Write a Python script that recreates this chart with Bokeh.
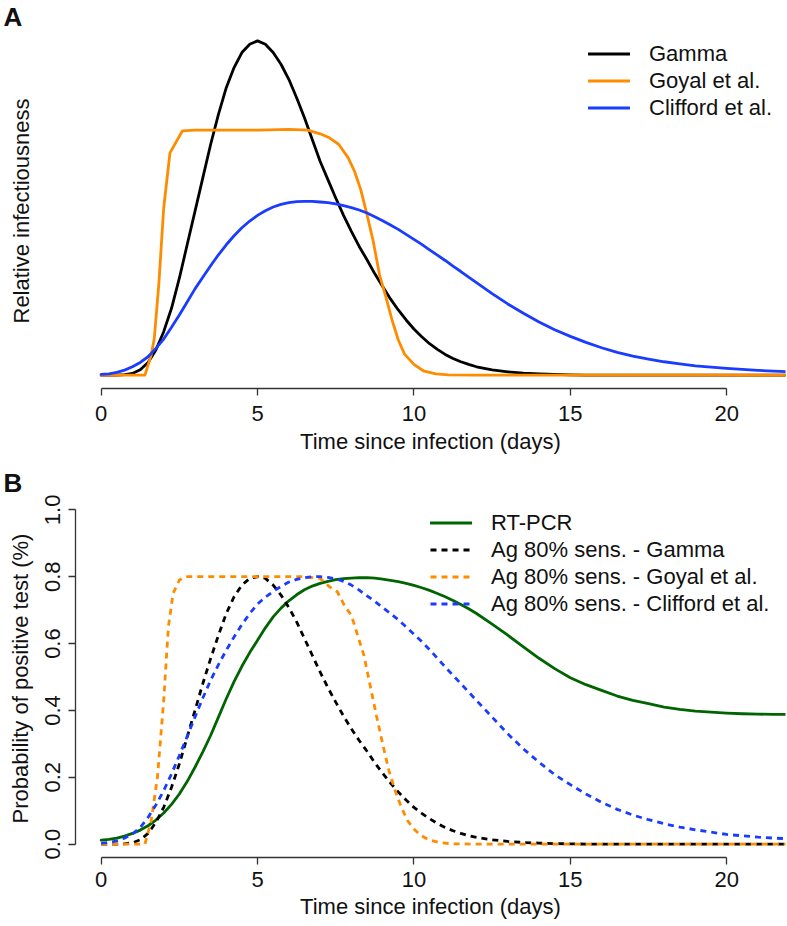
from bokeh.plotting import figure
from bokeh.layouts import column
from bokeh.models import Range1d, FixedTicker, Legend, LegendItem, Title
from bokeh.embed import file_html
from bokeh.resources import INLINE

FONT = "Liberation Sans"

# ---------------- data ----------------
days = [0, 0.25, 0.5, 0.75, 1, 1.25, 1.5, 1.75, 2, 2.25, 2.5, 2.75, 3, 3.25, 3.5, 3.75,
        4, 4.25, 4.5, 4.75, 5, 5.25, 5.5, 5.75, 6, 6.25, 6.5, 6.75, 7, 7.25, 7.5, 7.75,
        8, 8.25, 8.5, 8.75, 9, 9.25, 9.5, 9.75, 10, 10.25, 10.5, 10.75, 11, 11.25, 11.5,
        11.75, 12, 12.5, 13, 13.5, 14, 14.5, 15, 15.5, 16, 16.5, 17, 17.5, 18, 18.5, 19,
        19.5, 20, 20.5, 21, 21.5, 22]

# Panel A: relative infectiousness
gamma_a = [0, 0, 0.0003, 0.0015, 0.005, 0.016, 0.038, 0.075, 0.13, 0.20,
           0.29, 0.39, 0.49, 0.59, 0.69, 0.78, 0.86, 0.92, 0.965, 0.99,
           1.0, 0.99, 0.965, 0.93, 0.885, 0.83, 0.77, 0.705, 0.64, 0.585,
           0.53, 0.478, 0.43, 0.385, 0.345, 0.303, 0.265, 0.228, 0.195, 0.165,
           0.138, 0.115, 0.094, 0.077, 0.062, 0.05, 0.04, 0.032, 0.025,
           0.016, 0.01, 0.006, 0.0035, 0.002, 0.001, 0, 0, 0, 0, 0, 0, 0, 0, 0, 0, 0, 0, 0, 0]
goyal_a_days = [0, 1.0, 1.4, 1.6, 1.7, 1.85, 2.0, 2.2, 2.6, 3, 4, 5, 6, 6.6, 7.0, 7.3,
                7.6, 7.9, 8.1, 8.3, 8.5, 8.7, 8.9, 9.1, 9.3, 9.5, 9.7, 10.0, 10.3, 10.7,
                11.1, 12, 22]
goyal_a = [0, 0, 0, 0.06, 0.11, 0.28, 0.50, 0.665, 0.731, 0.733, 0.733, 0.733, 0.735,
           0.733, 0.722, 0.71, 0.69, 0.65, 0.61, 0.555, 0.48, 0.40, 0.30, 0.235, 0.165,
           0.105, 0.063, 0.032, 0.013, 0.004, 0.001, 0, 0]
clifford_a = [0.002, 0.004, 0.008, 0.015, 0.025, 0.038, 0.055, 0.08, 0.108, 0.143,
              0.18, 0.219, 0.258, 0.293, 0.327, 0.36, 0.39, 0.417, 0.441, 0.461,
              0.478, 0.492, 0.503, 0.511, 0.516, 0.519, 0.52, 0.52, 0.518, 0.516,
              0.512, 0.507, 0.501, 0.494, 0.485, 0.474, 0.462, 0.449, 0.436, 0.421,
              0.406, 0.391, 0.375, 0.359, 0.343, 0.326, 0.31, 0.293, 0.277,
              0.244, 0.213, 0.185, 0.159, 0.136, 0.116, 0.098, 0.082, 0.068, 0.057,
              0.048, 0.04, 0.034, 0.028, 0.024, 0.02, 0.017, 0.014, 0.012, 0.01]

# Panel B: probability of positive test
rt_pcr = [0.012, 0.014, 0.018, 0.024, 0.032, 0.042, 0.055, 0.072, 0.093, 0.119,
          0.15, 0.187, 0.23, 0.276, 0.325, 0.38, 0.435, 0.486, 0.532, 0.573,
          0.61, 0.647, 0.68, 0.706, 0.728, 0.746, 0.761, 0.772, 0.78, 0.786,
          0.791, 0.794, 0.796, 0.797, 0.797, 0.796, 0.793, 0.789, 0.785, 0.78,
          0.774, 0.767, 0.759, 0.75, 0.74, 0.729, 0.717, 0.704, 0.69,
          0.658, 0.625, 0.59, 0.556, 0.525, 0.498, 0.477, 0.46, 0.443, 0.43,
          0.42, 0.41, 0.403, 0.398, 0.395, 0.392, 0.39, 0.389, 0.388, 0.388]
ag_gamma = [0, 0, 0.0002, 0.001, 0.004, 0.013, 0.032, 0.065, 0.11, 0.17,
            0.24, 0.32, 0.40, 0.48, 0.555, 0.625, 0.69, 0.74, 0.775, 0.795,
            0.80, 0.795, 0.775, 0.745, 0.708, 0.665, 0.615, 0.565, 0.515, 0.468,
            0.425, 0.383, 0.345, 0.31, 0.278, 0.243, 0.212, 0.183, 0.156, 0.132,
            0.11, 0.092, 0.076, 0.062, 0.05, 0.04, 0.032, 0.025, 0.02,
            0.013, 0.008, 0.005, 0.003, 0.0015, 0.001, 0, 0, 0, 0, 0, 0, 0, 0, 0, 0, 0, 0, 0, 0]
ag_goyal_days = [0, 1.0, 1.4, 1.6, 1.8, 2.0, 2.15, 2.3, 2.5, 2.7, 3, 4, 5, 6, 6.5, 7.0,
                 7.3, 7.55, 7.8, 8.0, 8.2, 8.4, 8.6, 8.8, 9.0, 9.2, 9.4, 9.6, 9.8, 10.0,
                 10.2, 10.5, 10.8, 11.2, 12, 22]
ag_goyal = [0, 0, 0, 0.07, 0.2, 0.43, 0.65, 0.75, 0.79, 0.8, 0.8, 0.8, 0.8, 0.8, 0.8,
            0.795, 0.77, 0.755, 0.71, 0.685, 0.625, 0.565, 0.475, 0.385, 0.3, 0.22,
            0.16, 0.11, 0.07, 0.045, 0.027, 0.012, 0.005, 0.001, 0, 0]
ag_clifford = [0.003, 0.005, 0.01, 0.018, 0.03, 0.05, 0.08, 0.117, 0.16, 0.21,
               0.265, 0.322, 0.38, 0.437, 0.49, 0.537, 0.58, 0.62, 0.657, 0.69,
               0.718, 0.739, 0.756, 0.771, 0.784, 0.792, 0.797, 0.8, 0.8, 0.798,
               0.794, 0.786, 0.775, 0.76, 0.743, 0.726, 0.708, 0.69, 0.671, 0.65,
               0.628, 0.606, 0.582, 0.556, 0.53, 0.505, 0.48, 0.455, 0.43,
               0.38, 0.33, 0.285, 0.245, 0.208, 0.178, 0.15, 0.125, 0.104, 0.087,
               0.073, 0.061, 0.051, 0.043, 0.036, 0.029, 0.025, 0.021, 0.018, 0.016]

x_ticks = [0, 5, 10, 15, 20]
y_ticks = [0.0, 0.2, 0.4, 0.6, 0.8, 1.0]
y_tick_labels = ["0.0", "0.2", "0.4", "0.6", "0.8", "1.0"]

legend_a = ["Gamma", "Goyal et al.", "Clifford et al."]
legend_b = ["RT-PCR", "Ag 80% sens. - Gamma", "Ag 80% sens. - Goyal et al.",
            "Ag 80% sens. - Clifford et al."]
panel_tags = ["A", "B"]

BLACK = "black"
ORANGE = "#FF8C00"
BLUE = "#1a3cff"
GREEN = "#006400"
TXT = "#111111"
XLABEL = "Time since infection (days)"
DASH = "6 5"

# vertical scale shared by both panels (pixels per unit of y)
PX_PER_UNIT = 361 / 1.08
Y0 = -0.04


def base_fig(height, top, bottom, tag):
    frame_h = height - top - bottom
    p = figure(width=787, height=height, x_range=Range1d(-0.82, 21.88),
               y_range=Range1d(Y0, Y0 + frame_h / PX_PER_UNIT), output_backend="svg",
               toolbar_location=None, min_border_left=75, min_border_right=2,
               min_border_top=top, min_border_bottom=bottom,
               title=Title(text=tag, align="left", offset=-72, standoff=0,
                           vertical_align="top",
                           text_font=FONT, text_font_size="26px",
                           text_font_style="bold", text_color=TXT))
    p.outline_line_color = None
    p.xgrid.visible = False
    p.ygrid.visible = False
    xa = p.xaxis[0]
    xa.ticker = FixedTicker(ticks=x_ticks)
    xa.bounds = (0, 20)
    xa.axis_label = XLABEL
    for ax in (p.xaxis[0], p.yaxis[0]):
        ax.axis_line_color = "#333333"
        ax.axis_line_width = 1.3
        ax.major_tick_line_color = "#333333"
        ax.major_tick_line_width = 1.3
        ax.major_tick_in = 0
        ax.major_tick_out = 7
        ax.minor_tick_line_color = None
        ax.major_label_text_font = FONT
        ax.major_label_text_font_size = "22px"
        ax.major_label_text_color = TXT
        ax.axis_label_text_font = FONT
        ax.axis_label_text_font_size = "22px"
        ax.axis_label_text_font_style = "normal"
        ax.axis_label_text_color = TXT
    return p


def legend(items, loc):
    return Legend(items=items, location=loc, label_text_font=FONT,
                  label_text_font_size="22px", label_text_color=TXT,
                  glyph_width=42, glyph_height=27, label_height=27,
                  label_standoff=19, spacing=0, padding=0, margin=0,
                  border_line_color=None, background_fill_alpha=0)


# ---------------- panel A ----------------
pa = base_fig(466, 33, 78, panel_tags[0])
pa.xaxis[0].major_label_standoff = 10
pa.xaxis[0].axis_label_standoff = 5
ya = pa.yaxis[0]
ya.ticker = FixedTicker(ticks=[])
ya.axis_line_color = None
ya.major_tick_out = 0
ya.major_label_standoff = 0
ya.axis_label = "Relative infectiousness"
ya.axis_label_standoff = 42

ra1 = pa.line(days, gamma_a, line_color=BLACK, line_width=2.8, line_join="round", line_cap="round")
ra2 = pa.line(goyal_a_days, goyal_a, line_color=ORANGE, line_width=2.8, line_join="round", line_cap="round")
ra3 = pa.line(days, clifford_a, line_color=BLUE, line_width=2.8, line_join="round", line_cap="round")
pa.add_layout(legend([LegendItem(label=legend_a[0], renderers=[ra1]),
                      LegendItem(label=legend_a[1], renderers=[ra2]),
                      LegendItem(label=legend_a[2], renderers=[ra3])], (513, 267)))

# ---------------- panel B ----------------
pb = base_fig(460, 33, 69, panel_tags[1])
pb.xaxis[0].major_label_standoff = 7
pb.xaxis[0].axis_label_standoff = 4
yb = pb.yaxis[0]
yb.ticker = FixedTicker(ticks=y_ticks)
yb.bounds = (0, 1)
yb.major_label_overrides = {t: s for t, s in zip(y_ticks, y_tick_labels)}
yb.major_label_orientation = "vertical"
yb.major_label_standoff = 8
yb.axis_label = "Probability of positive test (%)"
yb.axis_label_standoff = 10

rb1 = pb.line(days, rt_pcr, line_color=GREEN, line_width=2.8, line_join="round", line_cap="round")
rb2 = pb.line(days, ag_gamma, line_color=BLACK, line_width=2.8, line_dash=DASH)
rb3 = pb.line(ag_goyal_days, ag_goyal, line_color=ORANGE, line_width=2.8, line_dash=DASH)
rb4 = pb.line(days, ag_clifford, line_color=BLUE, line_width=2.8, line_dash=DASH)
pb.add_layout(legend([LegendItem(label=legend_b[0], renderers=[rb1]),
                      LegendItem(label=legend_b[1], renderers=[rb2]),
                      LegendItem(label=legend_b[2], renderers=[rb3]),
                      LegendItem(label=legend_b[3], renderers=[rb4])], (355, 240)))

layout = column(pa, pb, spacing=0)
open("out.html", "w").write(file_html(layout, INLINE))
